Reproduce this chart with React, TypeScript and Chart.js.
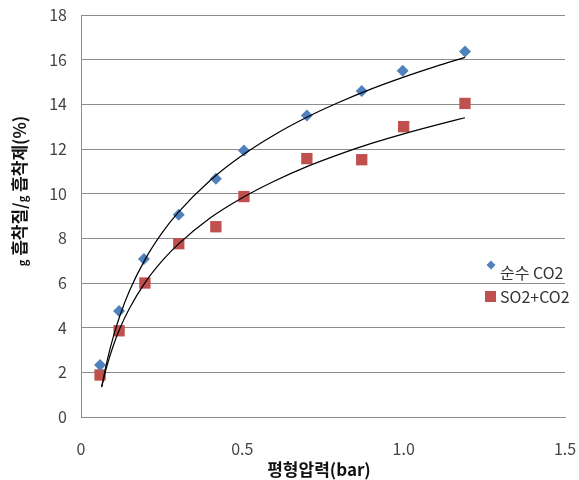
import React, { useEffect, useRef } from "react";
import { Chart, registerables } from "chart.js";

Chart.register(...registerables);

// Measured data (from picture)
const pureX = [0.059, 0.118, 0.195, 0.303, 0.418, 0.505, 0.70, 0.87, 0.997, 1.19];
const pureY = [2.33, 4.75, 7.08, 9.06, 10.67, 11.93, 13.5, 14.6, 15.5, 16.37];
const mixX = [0.059, 0.118, 0.198, 0.303, 0.418, 0.505, 0.70, 0.87, 1.0, 1.19];
const mixY = [1.88, 3.86, 6.0, 7.76, 8.52, 9.87, 11.57, 11.52, 13.0, 14.04];

// Trend lines
const trendX = [0.064, 0.08, 0.1, 0.12, 0.15, 0.2, 0.25, 0.3, 0.4, 0.5, 0.6, 0.7, 0.8, 0.9, 1.0, 1.1, 1.19];
const pureTrendY = [1.34, 2.46, 3.59, 4.51, 5.64, 7.09, 8.22, 9.14, 10.59, 11.72, 12.64, 13.42, 14.09, 14.69, 15.22, 15.7, 16.1];
const mixTrendY = [1.35, 2.27, 3.19, 3.95, 4.86, 6.05, 6.97, 7.72, 8.91, 9.82, 10.57, 11.21, 11.76, 12.25, 12.68, 13.07, 13.4];

const seriesNames = ["순수 CO2", "SO2+CO2"];
const xTitle = "평형압력(bar)";
const yTitleParts = [
  { t: "g", small: true },
  { t: " 흡착질/", small: false },
  { t: "g", small: true },
  { t: " 흡착제(%)", small: false },
];

const BLUE = "#4F81BD";
const RED = "#C0504D";
const GRID = "#8c8c8c";
const FONT = '"Noto Sans CJK KR", "Noto Sans", sans-serif';

const toPts = (xs: number[], ys: number[]) => xs.map((x, i) => ({ x, y: ys[i] }));

const decorPlugin = {
  id: "decor",
  afterDraw(chart: any) {
    const ctx = chart.ctx as CanvasRenderingContext2D;
    ctx.save();
    // x title
    ctx.fillStyle = "#111";
    ctx.font = `bold 17px ${FONT}`;
    ctx.textAlign = "center";
    ctx.textBaseline = "middle";
    ctx.fillText(xTitle, 319, 470);

    // y title (rotated)
    ctx.save();
    ctx.translate(20, 191);
    ctx.rotate(-Math.PI / 2);
    ctx.textAlign = "left";
    ctx.textBaseline = "middle";
    const bigFont = `bold 17px ${FONT}`;
    const smallFont = `bold 11px ${FONT}`;
    let total = 0;
    const widths = yTitleParts.map((p) => {
      ctx.font = p.small ? smallFont : bigFont;
      const w = ctx.measureText(p.t).width;
      total += w;
      return w;
    });
    let cx = -total / 2;
    yTitleParts.forEach((p, i) => {
      ctx.font = p.small ? smallFont : bigFont;
      ctx.fillText(p.t, cx, p.small ? 3 : 0);
      cx += widths[i];
    });
    ctx.restore();

    // legend
    ctx.font = `16px ${FONT}`;
    ctx.textAlign = "left";
    ctx.textBaseline = "middle";
    ctx.fillStyle = BLUE;
    ctx.beginPath();
    const dx = 491, dy = 265, dr = 4.5;
    ctx.moveTo(dx - dr, dy);
    ctx.lineTo(dx, dy - dr);
    ctx.lineTo(dx + dr, dy);
    ctx.lineTo(dx, dy + dr);
    ctx.closePath();
    ctx.fill();
    ctx.fillStyle = "#333";
    ctx.fillText(seriesNames[0], 500, 273);
    ctx.fillStyle = RED;
    ctx.fillRect(485, 291, 11, 11);
    ctx.fillStyle = "#333";
    ctx.fillText(seriesNames[1], 500, 297);
    ctx.restore();
  },
};

export default function App() {
  const ref = useRef<HTMLCanvasElement | null>(null);
  useEffect(() => {
    if (!ref.current) return;
    const chart = new Chart(ref.current, {
      type: "scatter",
      data: {
        datasets: [
          {
            label: "trend1",
            type: "line",
            data: toPts(trendX, pureTrendY),
            borderColor: "#000",
            borderWidth: 1.2,
            pointRadius: 0,
            cubicInterpolationMode: "monotone",
            fill: false,
            showLine: true,
          } as any,
          {
            label: "trend2",
            type: "line",
            data: toPts(trendX, mixTrendY),
            borderColor: "#000",
            borderWidth: 1.2,
            pointRadius: 0,
            cubicInterpolationMode: "monotone",
            fill: false,
            showLine: true,
          } as any,
          {
            label: seriesNames[0],
            data: toPts(pureX, pureY),
            pointStyle: "rectRot",
            pointRadius: 6,
            backgroundColor: BLUE,
            borderColor: BLUE,
            borderWidth: 0,
          },
          {
            label: seriesNames[1],
            data: toPts(mixX, mixY),
            pointStyle: "rect",
            pointRadius: 8,
            backgroundColor: RED,
            borderColor: RED,
            borderWidth: 0,
          },
        ],
      },
      options: {
        responsive: false,
        animation: false,
        layout: { padding: { top: 15, right: 14, left: 0, bottom: 0 } },
        plugins: { legend: { display: false }, tooltip: { enabled: false } },
        scales: {
          x: {
            type: "linear",
            min: 0,
            max: 1.5,
            ticks: {
              stepSize: 0.5,
              padding: 22,
              color: "#444",
              font: { family: FONT, size: 16 },
            },
            grid: { display: false, drawTicks: false },
            border: { display: true, color: GRID, width: 1 },
            afterFit: (s: any) => {
              s.height = 63;
              s.paddingLeft = 0;
              s.paddingRight = 0;
            },
          },
          y: {
            type: "linear",
            min: 0,
            max: 18,
            ticks: {
              stepSize: 2,
              padding: 14,
              color: "#444",
              font: { family: FONT, size: 16 },
            },
            grid: { color: GRID, drawTicks: false, lineWidth: 1 },
            border: { display: true, color: GRID, width: 1 },
            afterFit: (s: any) => {
              s.width = 81;
              s.paddingTop = 0;
              s.paddingBottom = 0;
            },
          },
        },
      },
      plugins: [decorPlugin],
    });
    return () => chart.destroy();
  }, []);
  return (
    <div style={{ position: "absolute", left: 0, top: 0, width: 579, height: 480, background: "#fff" }}>
      <canvas ref={ref} width={579} height={480} style={{ display: "block" }} />
    </div>
  );
}
